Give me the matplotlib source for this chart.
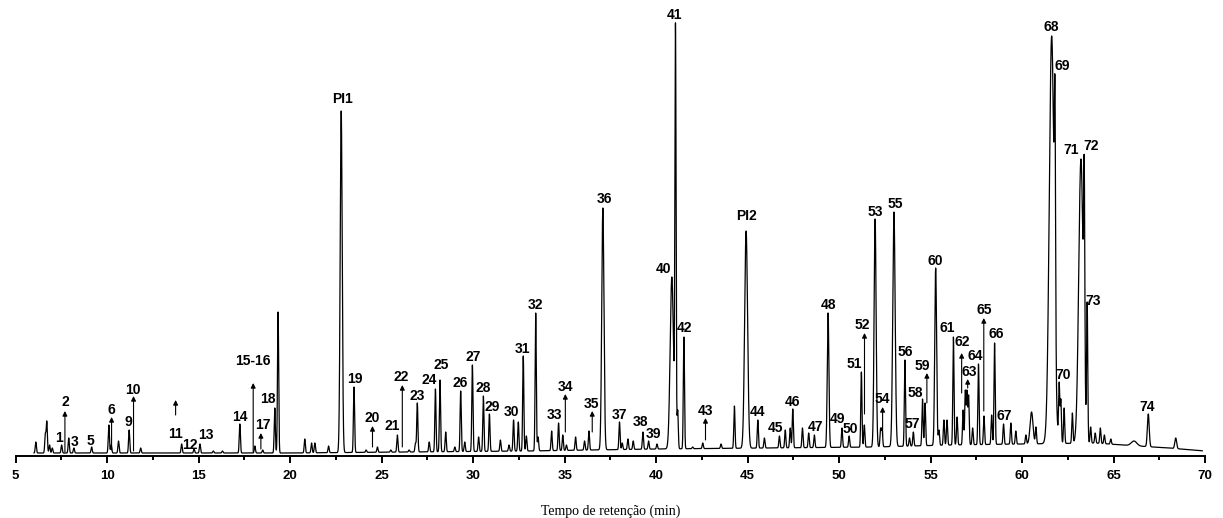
import numpy as np
import matplotlib
matplotlib.use('Agg')
import matplotlib.pyplot as plt

# peak apex: retention time (min), apex height (signal units), peak width sigma (min)
peak_times = [6.10, 6.62, 6.70, 6.85, 7.00, 7.51, 7.90, 8.18, 9.15, 10.09, 10.22, 10.62,
              11.20, 11.83, 14.07, 14.75, 15.07, 15.80, 16.30, 17.25, 18.07, 18.50, 19.16, 19.34,
              20.80, 21.17, 21.35, 22.10, 22.79, 23.49, 24.15, 24.77, 25.50, 25.86, 26.50, 26.85,
              26.95, 27.60, 27.94, 28.19, 28.50, 29.00, 29.32, 29.54, 29.96, 30.30, 30.56, 30.89,
              31.49, 31.96, 32.21, 32.47, 32.74, 32.91, 33.42, 33.55, 34.29, 34.67, 34.90, 35.10,
              35.60, 36.09, 36.33, 37.09, 38.00, 38.15, 38.46, 38.75, 39.28, 39.59, 40.05, 40.86,
              41.06, 41.18, 41.52, 42.00, 42.55, 43.55, 44.28, 44.92, 45.56, 45.92, 46.74, 47.06,
              47.33, 47.47, 48.00, 48.34, 48.65, 49.40, 50.16, 50.55, 51.22, 51.38, 51.97, 52.27,
              52.35, 53.00, 53.60, 53.85, 54.06, 54.56, 54.70, 55.28, 55.46, 55.73, 55.90, 56.25,
              56.45, 56.78, 56.90, 56.99, 57.08, 57.30, 57.62, 57.92, 58.34, 58.50, 58.99, 59.39,
              59.66, 60.21, 60.52, 60.76, 61.62, 61.80, 62.03, 62.12, 62.30, 62.75, 63.22, 63.40,
              63.56, 63.75, 64.00, 64.28, 64.50, 64.85, 66.12, 66.90, 68.40]
peak_heights = [11, 20, 32, 8, 5, 8, 15, 5, 6, 28, 8, 12,
                23, 5, 9, 4, 9, 2, 2, 29, 7, 3, 45, 141,
                14, 10, 10, 7, 342, 66, 3, 6, 3, 18, 3, 10,
                50, 11, 64, 73, 21, 6, 62, 11, 88, 16, 57, 39,
                13, 8, 33, 31, 97, 17, 140, 16, 22, 30, 18, 8,
                16, 12, 22, 245, 31, 10, 14, 12, 21, 12, 9, 176,
                430, 43, 116, 6, 10, 9, 47, 222, 33, 15, 17, 23,
                25, 44, 25, 20, 18, 140, 25, 17, 81, 28, 234, 25,
                25, 241, 93, 15, 21, 54, 50, 185, 23, 33, 33, 116,
                36, 43, 63, 63, 58, 25, 89, 37, 38, 110, 29, 30,
                22, 18, 41, 26, 417, 372, 71, 54, 45, 40, 294, 295,
                151, 26, 20, 25, 18, 14, 12, 39, 15]
wide_peaks = {22.79: 0.055, 37.09: 0.06, 40.86: 0.09, 44.92: 0.08, 49.40: 0.045,
              51.97: 0.055, 53.00: 0.065, 55.28: 0.05, 60.52: 0.08, 61.62: 0.13,
              63.22: 0.12, 66.12: 0.15, 66.90: 0.05, 68.40: 0.05}

# slow drift of the baseline
drift_times = [6, 20, 33, 40, 46, 52, 56, 60, 64, 65.5, 68, 70]
drift_levels = [0, 0, 2, 4, 5, 6, 8, 9, 10, 8, 5, 2]

# labelled compounds: text, time, label height
label_text = ['1', '2', '3', '5', '6', '9', '10', '11', '12', '13', '14', '15-16', '17', '18',
              'PI1', '19', '20', '21', '22', '23', '24', '25', '26', '27', '28', '29', '30',
              '31', '32', '33', '34', '35', '36', '37', '38', '39', '40', '41', '42', '43',
              'PI2', '44', '45', '46', '47', '48', '49', '50', '51', '52', '53', '54', '55',
              '56', '57', '58', '59', '60', '61', '62', '63', '64', '65', '66', '67', '68',
              '69', '70', '71', '72', '73', '74']
label_times = [7.38, 7.69, 8.22, 9.10, 10.24, 11.15, 11.42, 13.74, 14.52, 15.39, 17.25, 17.96,
               18.52, 18.80, 22.86, 23.53, 24.48, 25.59, 26.08, 26.96, 27.59, 28.27, 29.30,
               29.99, 30.56, 31.05, 32.11, 32.72, 33.42, 34.46, 35.07, 36.47, 37.18, 38.00,
               39.13, 39.86, 40.42, 41.01, 41.55, 42.70, 44.92, 45.56, 46.51, 47.44, 48.71,
               49.40, 49.93, 50.61, 50.85, 51.29, 51.97, 52.39, 53.06, 53.61, 54.03, 54.17,
               54.53, 55.24, 55.93, 56.74, 57.11, 57.43, 57.92, 58.58, 59.03, 61.62, 62.20,
               62.25, 62.70, 63.76, 63.89, 66.86]
label_heights = [15, 51, 11, 12, 43, 31, 63, 19, 8, 18, 36, 92, 28, 54, 354, 74, 35, 27,
                 76, 57, 73, 88, 70, 96, 65, 46, 41, 104, 148, 38, 66, 49, 254, 38, 31, 19,
                 184, 438, 125, 42, 237, 41, 25, 51, 26, 148, 34, 24, 89, 128, 241, 54, 249,
                 101, 29, 60, 87, 192, 125, 111, 81, 97, 143, 119, 37, 426, 387, 78, 303,
                 307, 152, 46]

# arrows pointing at minor compounds: time, tail height, head height
arrow_times = [7.69, 10.24, 11.44, 13.74, 17.98, 18.40, 24.50, 26.13, 35.04, 36.51, 42.70,
               51.39, 52.38, 54.80, 56.70, 57.03, 57.91]
arrow_tails = [1, 3, 2, 38, 1, 4, 6, 6, 21, 21, 13, 39, 17, 50, 60, 65, 42]
arrow_heads = [42, 36, 57, 53, 70, 20, 27, 68, 59, 42, 35, 120, 46, 80, 100, 74, 135]


def build_trace(t):
    centers = np.array(peak_times)
    sig = np.array([wide_peaks.get(c, 0.032) for c in peak_times])
    base = np.interp(t, drift_times, drift_levels)
    target = np.array(peak_heights) - np.interp(centers, drift_times, drift_levels)
    # amplitudes chosen so that the summed signal hits each apex height
    G = np.exp(-0.5 * ((centers[:, None] - centers[None, :]) / sig[None, :]) ** 2)
    amps = np.clip(np.linalg.solve(G, target), 0, None)
    y = base.copy()
    for c, s, a in zip(centers, sig, amps):
        y += a * np.exp(-0.5 * ((t - c) / s) ** 2)
    return y


t = np.linspace(6.0, 69.85, 40000)
signal = build_trace(t)

fig = plt.figure(figsize=(12.23, 5.18), dpi=100)
ax = fig.add_axes([15.7 / 1223, 62 / 518, 1189.3 / 1223, 456 / 518])
ax.plot(t, signal, color='black', lw=0.9)

bold = dict(family='Liberation Sans', weight='bold', size=10)
for txt, lt, lh in zip(label_text, label_times, label_heights):
    ax.text(lt, lh, txt, ha='center', va='center', clip_on=False, **bold)

for at, a0, a1 in zip(arrow_times, arrow_tails, arrow_heads):
    ax.annotate('', xy=(at, a1), xytext=(at, a0),
                arrowprops=dict(arrowstyle='-|>', lw=0.8, color='black',
                                mutation_scale=7, shrinkA=0, shrinkB=0))

ax.set_xlim(5, 70)
ax.set_ylim(-3, 453)
for side in ['top', 'left', 'right']:
    ax.spines[side].set_visible(False)
ax.spines['bottom'].set_linewidth(1.4)
ax.set_yticks([])
ax.set_xticks(np.arange(5, 71, 5))
ax.set_xticks(np.arange(7.5, 70, 5), minor=True)
ax.tick_params(axis='x', which='major', length=5, width=1.4, pad=5)
ax.tick_params(axis='x', which='minor', length=3, width=1.4)
for lab in ax.get_xticklabels():
    lab.set_fontfamily('Liberation Sans')
    lab.set_fontweight('bold')
    lab.set_fontsize(9.5)
ax.set_xlabel('Tempo de retenção (min)', family='Liberation Serif', fontsize=10, labelpad=16)

fig.savefig('out.png', dpi=100)
